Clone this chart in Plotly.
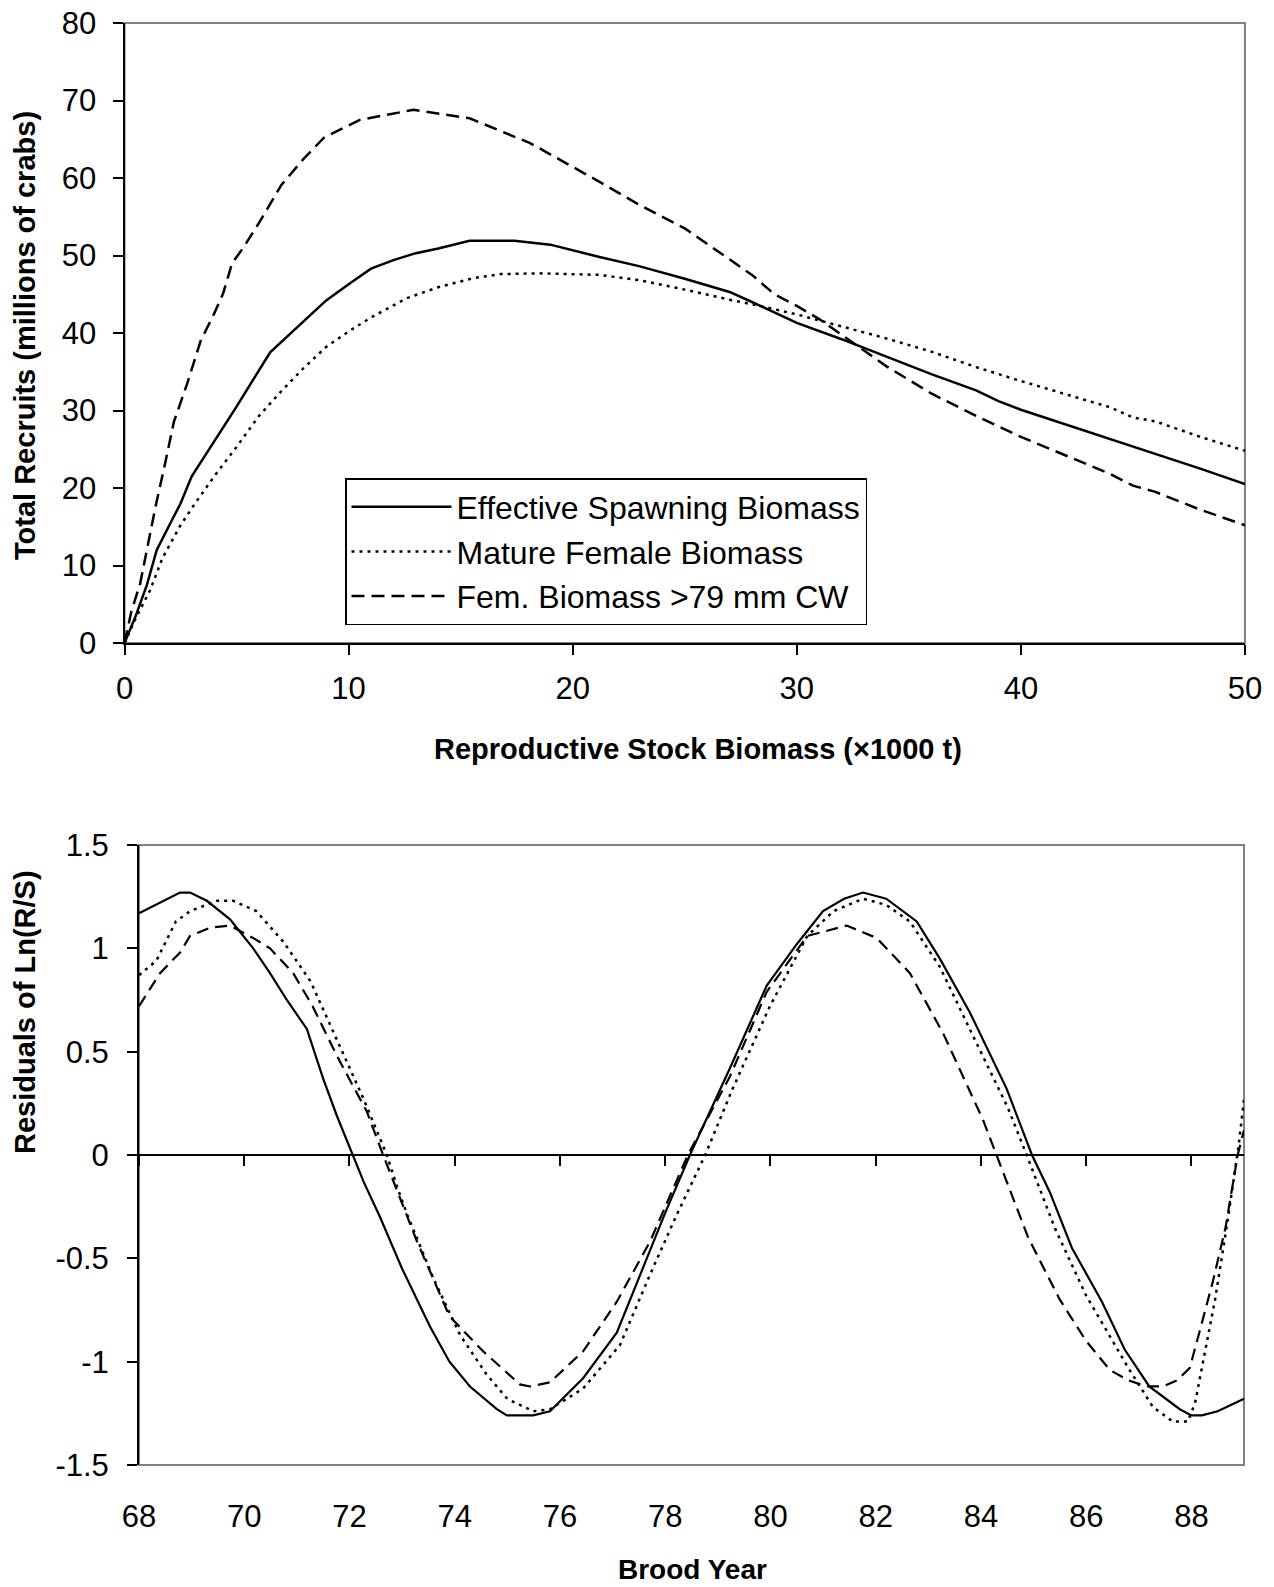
import plotly.graph_objects as go

# ---------------- Top panel: stock-recruit curves ----------------
esb_x = [0, 0.5, 1.0, 1.44, 2.0, 2.5, 3.0, 4.0, 5.0, 6.5, 8.0, 9.0, 10.0, 11.0, 12.0, 13.0, 14.0,
         15.4, 17.4, 19.0, 21.2, 23.0, 25.0, 26.5, 27.0, 28.0, 30.0, 32.0, 34.0, 36.0, 38.0, 39.0,
         40.0, 42.0, 44.0, 46.0, 48.0, 50.0]
esb_y = [0, 3.5, 7.5, 12.0, 15.2, 18.0, 21.5, 26.0, 30.5, 37.5, 41.5, 44.2, 46.3, 48.3, 49.4, 50.3, 50.9,
         51.9, 51.9, 51.4, 49.8, 48.6, 47.0, 45.7, 45.3, 44.0, 41.3, 39.2, 36.9, 34.7, 32.6, 31.2,
         30.1, 28.2, 26.3, 24.4, 22.5, 20.5]

mfb_x = [0, 0.5, 1.14, 1.7, 2.5, 3.1, 4.0, 5.0, 6.0, 7.0, 8.0, 9.0, 10.0, 11.0, 12.6, 14.0, 15.6, 16.8,
         18.5, 21.2, 23.0, 25.0, 27.0, 28.5, 30.0, 32.0, 34.0, 36.0, 38.0, 40.0, 42.0, 44.0, 45.0,
         46.0, 48.0, 50.0]
mfb_y = [0, 3.2, 6.8, 11.0, 15.2, 17.8, 21.5, 25.3, 29.3, 32.5, 35.5, 38.2, 40.2, 42.0, 44.5, 45.9, 47.1, 47.6,
         47.7, 47.5, 46.8, 45.6, 44.3, 43.4, 42.4, 40.9, 39.3, 37.6, 35.6, 33.8, 32.1, 30.4, 29.1,
         28.6, 26.6, 24.8]

fb79_x = [0, 0.3, 0.7, 1.0, 1.4, 1.8, 2.2, 2.8, 3.4, 4.0, 4.4, 4.8, 5.3, 6.0, 7.0, 8.0, 8.9, 10.5, 12.9,
          15.4, 18.1, 21.2, 23.0, 25.0, 26.5, 28.0, 29.0, 30.0, 31.0, 32.0, 34.0, 36.0, 38.0, 40.0,
          42.0, 44.0, 45.0, 46.0, 48.0, 50.0]
fb79_y = [0, 4.0, 7.7, 12.0, 17.8, 23.0, 28.5, 33.5, 39.0, 42.5, 45.1, 49.0, 51.0, 54.2, 59.1, 62.5, 65.2, 67.5, 68.8,
          67.7, 64.5, 59.5, 56.5, 53.5, 50.5, 47.5, 45.0, 43.5, 41.8, 39.8, 35.7, 32.2, 29.3, 26.6,
          24.2, 21.8, 20.3, 19.5, 17.2, 15.2]

top_xticks = [0, 10, 20, 30, 40, 50]
top_yticks = [0, 10, 20, 30, 40, 50, 60, 70, 80]

# ---------------- Bottom panel: residuals ----------------
res_esb_x = [68.0, 68.4, 68.78, 68.97, 69.29, 69.73, 70.17, 70.49, 70.81, 71.19, 71.5, 71.76, 72.07, 72.27,
             72.58, 73.0, 73.53, 73.9, 74.29, 74.8, 74.99, 75.49, 75.81, 76.44, 77.08, 77.71, 78.0, 78.47,
             79.23, 79.93, 80.5, 81.0, 81.4, 81.76, 82.2, 82.78, 83.22, 83.79, 84.49, 84.97, 85.31, 85.73,
             86.3, 86.73, 87.2, 87.78, 88.0, 88.2, 88.5, 89.0]
res_esb_y = [1.17, 1.22, 1.27, 1.27, 1.23, 1.14, 1.0, 0.88, 0.75, 0.61, 0.37, 0.19, 0.0, -0.13,
             -0.30, -0.55, -0.83, -1.0, -1.12, -1.23, -1.26, -1.26, -1.24, -1.08, -0.86, -0.46, -0.28, 0.0,
             0.42, 0.82, 1.02, 1.18, 1.24, 1.27, 1.24, 1.13, 0.95, 0.69, 0.32, 0.0, -0.18, -0.45,
             -0.71, -0.94, -1.12, -1.23, -1.26, -1.26, -1.24, -1.18]

res_mfb_x = [68.0, 68.33, 68.7, 68.97, 69.48, 69.79, 70.23, 70.75, 71.26, 71.69, 72.27, 72.71, 72.9, 73.1,
             73.6, 74.1, 74.6, 75.0, 75.49, 75.81, 76.44, 77.14, 77.71, 78.2, 78.76, 79.28, 79.99, 80.7,
             81.2, 81.76, 82.2, 82.65, 83.22, 83.9, 84.51, 84.87, 85.4, 86.0, 86.8, 87.27, 87.65, 87.93,
             88.07, 88.2, 88.45, 88.7, 88.9, 89.0]
res_mfb_y = [0.87, 0.94, 1.13, 1.18, 1.23, 1.23, 1.18, 1.03, 0.84, 0.6, 0.27, 0.0, -0.15, -0.29,
             -0.6, -0.87, -1.06, -1.18, -1.24, -1.23, -1.13, -0.92, -0.58, -0.3, 0.0, 0.32, 0.72, 1.06,
             1.18, 1.24, 1.21, 1.13, 0.91, 0.55, 0.23, 0.0, -0.35, -0.68, -1.03, -1.22, -1.29, -1.29,
             -1.2, -1.03, -0.7, -0.3, 0.05, 0.27]

res_fb79_x = [68.0, 68.4, 68.78, 68.97, 69.35, 69.73, 70.17, 70.49, 70.93, 71.3, 71.76, 72.33, 72.64, 73.27,
              73.9, 74.54, 75.24, 75.43, 75.81, 76.44, 77.08, 77.71, 78.43, 79.23, 79.93, 80.7, 81.45,
              82.02, 82.65, 83.28, 84.04, 84.3, 84.9, 85.5, 86.0, 86.45, 86.8, 87.15, 87.46, 87.73, 87.97,
              88.16, 88.4, 88.65, 88.88, 89.0]
res_fb79_y = [0.72, 0.88, 0.98, 1.06, 1.10, 1.11, 1.05, 1.0, 0.88, 0.72, 0.48, 0.21, 0.0, -0.41,
              -0.78, -0.95, -1.11, -1.12, -1.10, -0.95, -0.71, -0.42, 0.0, 0.38, 0.79, 1.06, 1.11,
              1.05, 0.88, 0.59, 0.17, 0.0, -0.4, -0.70, -0.9, -1.04, -1.09, -1.12, -1.12, -1.09, -1.03,
              -0.85, -0.62, -0.35, 0.0, 0.12]

bot_xticks = [68, 70, 72, 74, 76, 78, 80, 82, 84, 86, 88]
bot_yticks = [-1.5, -1, -0.5, 0, 0.5, 1, 1.5]
bot_yticktext = ["-1.5", "-1", "-0.5", "0", "0.5", "1", "1.5"]

series_names = ["Effective Spawning Biomass", "Mature Female Biomass", "Fem. Biomass >79 mm CW"]

# ---------------- Layout geometry ----------------
W, H = 1274, 1587
FONT = "Liberation Sans, Arial, sans-serif"
top_x_dom = [124.5 / W, 1245 / W]
top_y_dom = [1 - 643 / H, 1 - 23 / H]
bot_x_dom = [139 / W, 1244 / W]
bot_y_dom = [1 - 1465 / H, 1 - 845 / H]
bot_yrange = [-1.5, 1.5]
zero_pos = bot_y_dom[0] + (0 - bot_yrange[0]) / (bot_yrange[1] - bot_yrange[0]) * (bot_y_dom[1] - bot_y_dom[0])

solid = dict(color="black", width=2.5)
dotted = dict(color="black", width=2.5, dash="3px,5px")
dashed = dict(color="black", width=2.5, dash="13px,7px")

fig = go.Figure()
fig.add_trace(go.Scatter(x=esb_x, y=esb_y, mode="lines", name=series_names[0], line=solid,
                         legendgroup="a", xaxis="x", yaxis="y"))
fig.add_trace(go.Scatter(x=mfb_x, y=mfb_y, mode="lines", name=series_names[1], line=dotted,
                         legendgroup="b", xaxis="x", yaxis="y"))
fig.add_trace(go.Scatter(x=fb79_x, y=fb79_y, mode="lines", name=series_names[2], line=dashed,
                         legendgroup="c", xaxis="x", yaxis="y"))

fig.add_trace(go.Scatter(x=res_esb_x, y=res_esb_y, mode="lines", showlegend=False,
                         line=dict(color="black", width=2.2), xaxis="x2", yaxis="y2"))
fig.add_trace(go.Scatter(x=res_mfb_x, y=res_mfb_y, mode="lines", showlegend=False,
                         line=dict(color="black", width=2.5, dash="3px,5px"), xaxis="x2", yaxis="y2"))
fig.add_trace(go.Scatter(x=res_fb79_x, y=res_fb79_y, mode="lines", showlegend=False,
                         line=dict(color="black", width=2.2, dash="12px,7px"), xaxis="x2", yaxis="y2"))
# helper trace so the zero-crossing tick axis is rendered
fig.add_trace(go.Scatter(x=[None], y=[None], mode="lines", showlegend=False, hoverinfo="skip",
                         xaxis="x3", yaxis="y2"))

axis_common = dict(showgrid=False, zeroline=False, color="black", automargin=False,
                   tickfont=dict(family=FONT, size=31, color="black"))

fig.update_layout(
    width=W, height=H,
    margin=dict(l=0, r=0, t=0, b=0, pad=0, autoexpand=False),
    paper_bgcolor="white", plot_bgcolor="white",
    font=dict(family=FONT, color="black"),
    xaxis=dict(domain=top_x_dom, anchor="y", range=[0, 50], tickvals=top_xticks,
               showline=True, linecolor="black", linewidth=2, ticks="outside", ticklen=10,
               tickwidth=2, tickcolor="black", ticklabelstandoff=7, **axis_common),
    yaxis=dict(domain=top_y_dom, anchor="x", range=[0, 80], tickvals=top_yticks,
               showline=True, linecolor="black", linewidth=2, ticks="outside", ticklen=10,
               tickwidth=2, tickcolor="black", ticklabelstandoff=10, **axis_common),
    xaxis2=dict(domain=bot_x_dom, anchor="y2", range=[68, 89], tickvals=bot_xticks,
                showline=False, ticks="", ticklabelstandoff=30, **axis_common),
    yaxis2=dict(domain=bot_y_dom, anchor="x2", range=bot_yrange, tickvals=bot_yticks,
                ticktext=bot_yticktext, showline=True, linecolor="black", linewidth=2,
                ticks="outside", ticklen=10, tickwidth=2, tickcolor="black", ticklabelstandoff=12,
                **axis_common),
    xaxis3=dict(overlaying="x2", anchor="free", position=zero_pos, range=[68, 89],
                tickvals=bot_xticks, showticklabels=False, showline=True, linecolor="black",
                linewidth=1.5, ticks="outside", ticklen=10, tickwidth=2, tickcolor="black",
                showgrid=False, zeroline=False, automargin=False),
    legend=dict(x=345 / W, y=1 - 478 / H, xanchor="left", yanchor="top",
                bordercolor="black", borderwidth=1.5, bgcolor="white", tracegroupgap=0,
                font=dict(family=FONT, size=32, color="black"), itemwidth=100),
    shapes=[
        dict(type="rect", xref="x domain", yref="y domain", x0=0, x1=1, y0=0, y1=1,
             line=dict(color="#808080", width=2), layer="below"),
        dict(type="rect", xref="x2 domain", yref="y2 domain", x0=0, x1=1, y0=0, y1=1,
             line=dict(color="#808080", width=2), layer="below"),
    ],
    annotations=[
        dict(text="<b>Total Recruits (millions of crabs)</b>", x=25 / W, y=1 - 336 / H,
             xref="paper", yref="paper", textangle=-90, showarrow=False,
             font=dict(family=FONT, size=29, color="black"), xanchor="center", yanchor="middle"),
        dict(text="<b>Reproductive Stock Biomass (×1000 t)</b>", x=698 / W, y=1 - 749 / H,
             xref="paper", yref="paper", showarrow=False,
             font=dict(family=FONT, size=29, color="black"), xanchor="center", yanchor="middle"),
        dict(text="<b>Residuals of Ln(R/S)</b>", x=25 / W, y=1 - 1012 / H,
             xref="paper", yref="paper", textangle=-90, showarrow=False,
             font=dict(family=FONT, size=29, color="black"), xanchor="center", yanchor="middle"),
        dict(text="<b>Brood Year</b>", x=693 / W, y=1 - 1569 / H,
             xref="paper", yref="paper", showarrow=False,
             font=dict(family=FONT, size=28, color="black"), xanchor="center", yanchor="middle"),
    ],
)

fig.write_html("out.html")
